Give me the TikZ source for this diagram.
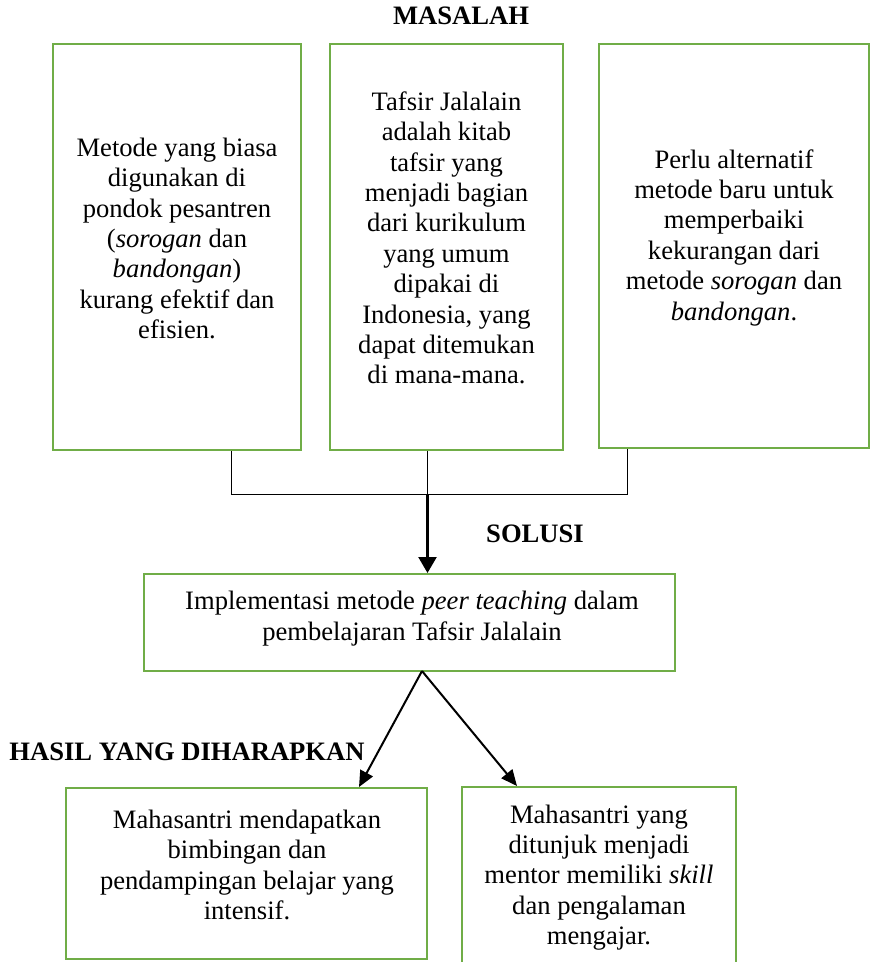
\documentclass[tikz,border=0pt]{standalone}
\usepackage{fontspec}
\setmainfont{Liberation Serif}
\usetikzlibrary{arrows.meta,positioning}
\definecolor{boxgreen}{HTML}{70AD47}

\begin{document}
\begin{tikzpicture}[
  x=0.5pt, y=-0.5pt,
  every node/.style={font=\fontsize{13.3}{15.2}\selectfont},
  box/.style={draw=boxgreen, line width=1pt, inner sep=0pt},
  txt/.style={align=center, inner sep=0pt},
  head/.style={font=\fontsize{13.3}{15.2}\selectfont\bfseries, inner sep=0pt},
  link/.style={line width=0.5pt},
  down/.style={-{Triangle[length=8pt, width=9pt]}, line width=1.2pt},
  arrow/.style={-{Triangle[length=8pt, width=7pt]}, line width=1pt}
]
\useasboundingbox (0,0) rectangle (872,962);

% masalah
\node[head] (masalah) at (461,16) {MASALAH};
\node[box, minimum width=124pt, minimum height=203pt] (prob1) at (177,247) {};
\node[box, minimum width=116.5pt, minimum height=203pt] (prob2) at (446.5,247) {};
\node[box, minimum width=135pt, minimum height=202pt] (prob3) at (734,246) {};
\node[txt] (prob1txt) at (177,238.5) {Metode yang biasa\\digunakan di\\pondok pesantren\\(\textit{sorogan} dan\\\textit{bandongan})\\kurang efektif dan\\efisien.};
\node[txt] (prob2txt) at (446.5,238) {Tafsir Jalalain\\adalah kitab\\tafsir yang\\menjadi bagian\\dari kurikulum\\yang umum\\dipakai di\\Indonesia, yang\\dapat ditemukan\\di mana-mana.};
\node[txt] (prob3txt) at (734,237.5) {Perlu alternatif\\metode baru untuk\\memperbaiki\\kekurangan dari\\metode \textit{sorogan} dan\\\textit{bandongan}.};

% solusi
\node[head] (solusi) at (535,534) {SOLUSI};
\node[box, minimum width=265.5pt, minimum height=48.5pt] (sol) at (409.5,622.5) {};
\node[txt] (soltxt) at (412,618.5) {Implementasi metode \textit{peer teaching} dalam\\pembelajaran Tafsir Jalalain};

% hasil
\node[head] (hasil) at (187,752) {HASIL YANG DIHARAPKAN};
\node[box, minimum width=180.5pt, minimum height=85.5pt] (res1) at (246.5,873.5) {};
\node[box, minimum width=137pt, minimum height=106.5pt] (res2) at (599,893.5) {};
\node[txt] (res1txt) at (247,865) {Mahasantri mendapatkan\\bimbingan dan\\pendampingan belajar yang\\intensif.};
\node[txt] (res2txt) at (599,877.5) {Mahasantri yang\\ditunjuk menjadi\\mentor memiliki \textit{skill}\\dan pengalaman\\mengajar.};

% connectors
\coordinate (jl) at (231,494);
\coordinate (jm) at (427.5,494);
\coordinate (jr) at (627,494);
\coordinate (fork) at (422,671);
\coordinate (tipl) at (359,0);
\coordinate (tipr) at (517,0);

\draw[link] (jl |- prob1.south) -- (jl) -- (jr) -- (jr |- prob3.south);
\draw[link] (jm |- prob2.south) -- (jm);
\draw[down] (jm) -- (jm |- sol.north);
\draw[arrow] (fork) -- (tipl |- res1.north);
\draw[arrow] (fork) -- (tipr |- res2.north);
\end{tikzpicture}
\end{document}
